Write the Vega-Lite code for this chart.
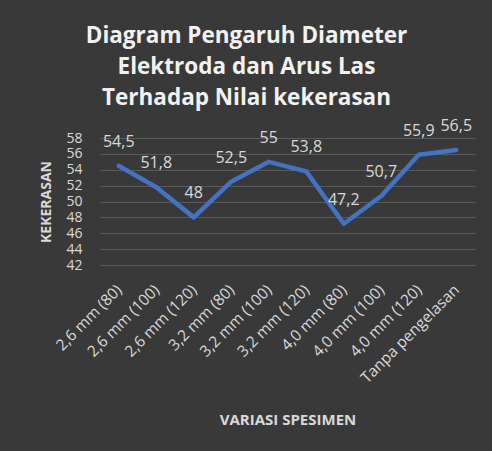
{
  "$schema": "https://vega.github.io/schema/vega-lite/v6.json",
  "autosize": {"type": "none"},
  "width": 375,
  "height": 127,
  "padding": {"left": 100, "top": 138, "right": 17, "bottom": 186},
  "background": "#393939",
  "title": {
    "text": ["Diagram Pengaruh Diameter", "Elektroda dan Arus Las", "Terhadap Nilai kekerasan"],
    "anchor": "middle",
    "frame": "group",
    "dx": -41,
    "fontSize": 22.5,
    "font": "Open Sans",
    "fontWeight": "bold",
    "color": "#f2f2f2",
    "lineHeight": 31,
    "offset": 8
  },
  "config": {
    "view": {"stroke": null},
    "font": "Open Sans"
  },
  "data": {
    "values": [
      {"spesimen": "2,6 mm (80)", "nilai": 54.5, "label": "54,5"},
      {"spesimen": "2,6 mm (100)", "nilai": 51.8, "label": "51,8"},
      {"spesimen": "2,6 mm (120)", "nilai": 48, "label": "48"},
      {"spesimen": "3,2 mm (80)", "nilai": 52.5, "label": "52,5"},
      {"spesimen": "3,2 mm (100)", "nilai": 55, "label": "55"},
      {"spesimen": "3,2 mm (120)", "nilai": 53.8, "label": "53,8"},
      {"spesimen": "4,0 mm (80)", "nilai": 47.2, "label": "47,2"},
      {"spesimen": "4,0 mm (100)", "nilai": 50.7, "label": "50,7"},
      {"spesimen": "4,0 mm (120)", "nilai": 55.9, "label": "55,9"},
      {"spesimen": "Tanpa pengelasan", "nilai": 56.5, "label": "56,5"}
    ]
  },
  "encoding": {
    "x": {
      "field": "spesimen",
      "type": "ordinal",
      "sort": null,
      "scale": {"type": "point", "padding": 0.5},
      "axis": {
        "title": "VARIASI SPESIMEN",
        "titleColor": "#d9d9d9",
        "titleFontSize": 15,
        "titleFontWeight": "bold",
        "titlePadding": 26,
        "labelAngle": -45,
        "labelAlign": "right",
        "labelBaseline": "middle",
        "labelColor": "#d9d9d9",
        "labelFontSize": 15.5,
        "labelPadding": 22,
        "ticks": false,
        "domain": false,
        "grid": false
      }
    },
    "y": {
      "field": "nilai",
      "type": "quantitative",
      "scale": {"domain": [42, 58], "nice": false, "zero": false},
      "axis": {
        "title": "KEKERASAN",
        "titleColor": "#d9d9d9",
        "titleFontSize": 14,
        "titleFontWeight": "bold",
        "titlePadding": 12,
        "values": [42, 44, 46, 48, 50, 52, 54, 56, 58],
        "labelColor": "#d9d9d9",
        "labelFontSize": 14,
        "labelPadding": 18,
        "ticks": false,
        "domain": false,
        "gridColor": "#5a5a5a",
        "gridWidth": 1
      }
    }
  },
  "layer": [
    {
      "mark": {"type": "line", "color": "#4472c4", "strokeWidth": 4.5, "strokeCap": "round", "strokeJoin": "round"}
    },
    {
      "mark": {"type": "text", "dy": -24, "fontSize": 16, "color": "#d9d9d9", "baseline": "middle"},
      "encoding": {"text": {"field": "label"}}
    }
  ]
}
